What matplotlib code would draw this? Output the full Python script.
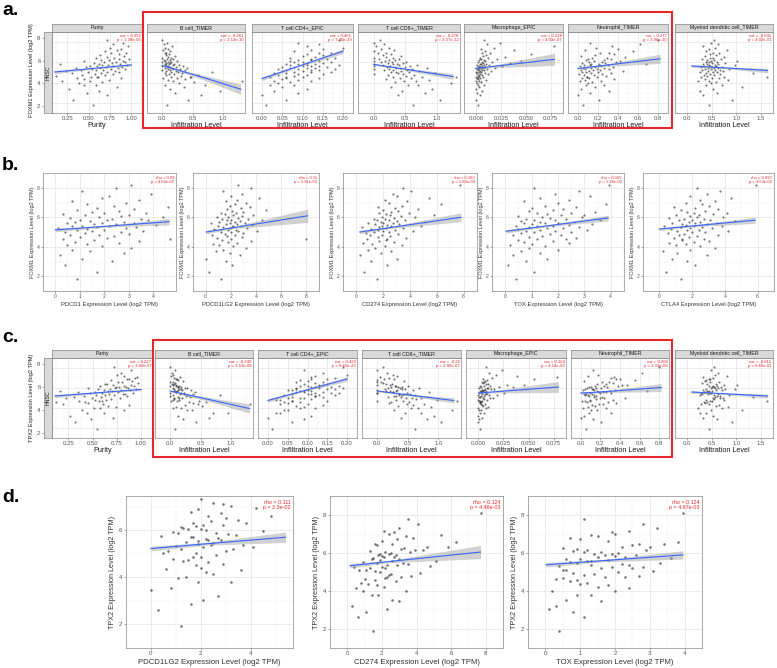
import matplotlib
matplotlib.use("Agg")
import matplotlib.pyplot as plt
from matplotlib.patches import Rectangle

# ---------------- data ----------------
# samples sorted by FOXM1 expression (log2 TPM)
y_foxm1 = [1.78, 2.31, 2.74, 3.02, 3.19, 3.41, 3.57, 3.73, 3.81, 3.94,
           4.03, 4.12, 4.18, 4.27, 4.33, 4.41, 4.46, 4.52, 4.58, 4.66,
           4.71, 4.77, 4.83, 4.86, 4.92, 4.97, 5.01, 5.06, 5.09, 5.13,
           5.16, 5.21, 5.24, 5.27, 5.31, 5.33, 5.38, 5.41, 5.44, 5.47,
           5.52, 5.54, 5.58, 5.61, 5.63, 5.68, 5.71, 5.74, 5.78, 5.81,
           5.84, 5.88, 5.91, 5.96, 6.01, 6.04, 6.08, 6.12, 6.17, 6.21,
           6.26, 6.31, 6.36, 6.42, 6.47, 6.53, 6.61, 6.68, 6.79, 6.88,
           6.97, 7.08, 7.19, 7.31, 7.44, 7.58, 7.77, 7.96, 8.21, 4.55]
y_tpx2 = [1.92, 2.62, 3.05, 2.88, 3.46, 3.22, 3.81, 3.55, 4.02, 3.78,
          4.21, 3.98, 4.37, 4.15, 4.52, 4.29, 4.68, 4.41, 4.79, 4.57,
          4.88, 4.63, 5.02, 4.74, 5.11, 4.85, 5.19, 4.96, 5.28, 5.05,
          5.36, 5.12, 5.43, 5.21, 5.49, 5.27, 5.58, 5.33, 5.64, 5.39,
          5.71, 5.46, 5.77, 5.52, 5.83, 5.59, 5.90, 5.66, 5.97, 5.72,
          6.03, 5.79, 6.09, 5.87, 6.16, 5.94, 6.24, 6.01, 6.32, 6.07,
          6.41, 6.14, 6.50, 6.22, 6.61, 6.31, 6.74, 6.45, 6.88, 6.60,
          7.02, 6.79, 7.16, 6.95, 7.33, 7.12, 7.55, 7.81, 8.12, 4.73]

x_purity = [0.55, 0.32, 0.71, 0.48, 0.62, 0.27, 0.83, 0.44, 0.58, 0.39,
            0.66, 0.51, 0.19, 0.74, 0.45, 0.88, 0.36, 0.61, 0.53, 0.12,
            0.69, 0.42, 0.78, 0.57, 0.31, 0.64, 0.86, 0.49, 0.72, 0.23,
            0.81, 0.59, 0.67, 0.41, 0.92, 0.54, 0.76, 0.63, 0.35, 0.84,
            0.70, 0.47, 0.89, 0.60, 0.79, 0.52, 0.95, 0.66, 0.73, 0.16,
            0.87, 0.62, 0.77, 0.56, 0.93, 0.68, 0.82, 0.45, 0.90, 0.74,
            0.65, 0.85, 0.97, 0.58, 0.80, 0.71, 0.91, 0.63, 0.86, 0.76,
            0.94, 0.69, 0.83, 0.88, 0.75, 0.96, 0.79, 0.90, 0.72, 0.60]
x_bcell = [0.08, 0.42, 0.63, 0.21, 0.95, 0.12, 0.35, 0.71, 0.05, 0.28,
           0.52, 0.17, 1.31, 0.09, 0.38, 0.24, 0.02, 0.46, 0.14, 0.31,
           0.06, 0.58, 0.19, 0.11, 0.33, 0.04, 0.26, 0.15, 0.81, 0.07,
           0.22, 0.13, 0.37, 0.00, 0.18, 0.29, 0.10, 0.05, 0.41, 0.16,
           0.08, 0.23, 0.12, 0.00, 0.34, 0.09, 0.17, 0.06, 0.27, 0.11,
           0.04, 0.20, 0.13, 0.07, 0.00, 0.15, 0.10, 0.25, 0.05, 0.12,
           0.03, 0.18, 0.08, 0.14, 0.00, 0.09, 0.21, 0.06, 0.11, 0.04,
           0.07, 0.13, 0.02, 0.10, 0.05, 0.16, 0.03, 0.08, 0.00, 0.48]
x_cd4 = [0.01, 0.06, 0.00, 0.09, 0.03, 0.11, 0.05, 0.02, 0.08, 0.04,
         0.07, 0.12, 0.03, 0.09, 0.05, 0.14, 0.06, 0.10, 0.02, 0.08,
         0.11, 0.04, 0.09, 0.15, 0.06, 0.03, 0.12, 0.08, 0.17, 0.05,
         0.10, 0.14, 0.06, 0.12, 0.18, 0.04, 0.09, 0.13, 0.07, 0.11,
         0.08, 0.16, 0.05, 0.12, 0.10, 0.14, 0.07, 0.11, 0.19, 0.09,
         0.13, 0.06, 0.11, 0.15, 0.08, 0.17, 0.10, 0.07, 0.14, 0.12,
         0.09, 0.16, 0.12, 0.18, 0.07, 0.13, 0.10, 0.15, 0.11, 0.14,
         0.17, 0.08, 0.12, 0.15, 0.20, 0.11, 0.14, 0.09, 0.19, 0.06]
x_cd8 = [0.62, 1.05, 0.38, 0.81, 0.45, 0.93, 0.27, 0.71, 0.55, 1.22,
         0.34, 0.67, 0.48, 0.88, 0.19, 0.59, 0.42, 0.76, 0.31, 0.52,
         0.64, 0.23, 0.47, 0.00, 0.39, 0.98, 0.28, 0.56, 0.35, 0.72,
         0.44, 0.17, 0.53, 0.30, 0.00, 0.61, 0.25, 0.41, 0.84, 0.36,
         0.21, 0.49, 0.33, 0.00, 0.58, 0.26, 0.40, 0.14, 0.68, 0.30,
         0.37, 0.00, 0.22, 0.46, 0.29, 0.12, 0.51, 0.18, 0.00, 0.34,
         0.24, 0.40, 0.09, 0.31, 0.00, 0.20, 0.43, 0.15, 0.27, 0.06,
         0.19, 0.00, 0.32, 0.11, 0.25, 0.04, 0.16, 0.00, 0.10, 1.30]
x_mac = [0.002, 0.000, 0.004, 0.001, 0.006, 0.000, 0.003, 0.002, 0.008, 0.001,
         0.005, 0.000, 0.003, 0.010, 0.002, 0.004, 0.001, 0.007, 0.000, 0.003,
         0.006, 0.002, 0.012, 0.004, 0.001, 0.009, 0.003, 0.005, 0.000, 0.015,
         0.004, 0.002, 0.008, 0.006, 0.001, 0.011, 0.003, 0.019, 0.005, 0.007,
         0.002, 0.009, 0.004, 0.026, 0.006, 0.003, 0.013, 0.008, 0.001, 0.005,
         0.010, 0.004, 0.034, 0.007, 0.002, 0.016, 0.006, 0.009, 0.045, 0.003,
         0.008, 0.021, 0.005, 0.012, 0.004, 0.029, 0.007, 0.010, 0.055, 0.006,
         0.014, 0.009, 0.038, 0.005, 0.018, 0.078, 0.011, 0.024, 0.008, 0.002]
x_neut = [0.05, 0.21, 0.00, 0.12, 0.31, 0.03, 0.17, 0.08, 0.26, 0.10,
          0.14, 0.02, 0.23, 0.07, 0.36, 0.11, 0.04, 0.19, 0.09, 0.28,
          0.16, 0.06, 0.24, 0.01, 0.13, 0.33, 0.08, 0.20, 0.04, 0.45,
          0.11, 0.22, 0.03, 0.15, 0.31, 0.07, 0.19, 0.13, 0.26, 0.05,
          0.17, 0.09, 0.35, 0.20, 0.02, 0.23, 0.12, 0.30, 0.06, 0.68,
          0.21, 0.13, 0.27, 0.04, 0.38, 0.11, 0.24, 0.16, 0.42, 0.08,
          0.26, 0.10, 0.33, 0.14, 0.29, 0.47, 0.03, 0.17, 0.36, 0.22,
          0.31, 0.55, 0.07, 0.40, 0.18, 0.34, 0.62, 0.12, 0.80, 0.09]
x_myeloid = [0.45, 0.92, 0.33, 0.61, 0.27, 0.53, 1.12, 0.38, 0.70, 0.49,
             0.58, 0.21, 0.44, 0.83, 0.36, 0.64, 0.50, 0.29, 0.75, 0.41,
             0.55, 0.34, 0.67, 0.47, 1.35, 0.39, 0.60, 0.52, 0.25, 0.73,
             0.43, 0.57, 0.31, 0.66, 0.48, 0.86, 0.37, 0.54, 0.42, 0.62,
             0.50, 0.28, 0.71, 0.46, 0.59, 0.35, 0.97, 0.44, 0.56, 0.40,
             0.63, 0.32, 0.51, 0.78, 0.45, 0.38, 0.60, 0.49, 1.02, 0.55,
             0.41, 0.68, 0.30, 0.53, 0.46, 0.74, 0.36, 0.58, 0.47, 0.65,
             0.52, 0.39, 0.81, 0.44, 0.57, 0.33, 0.62, 0.48, 0.55, 1.62]

x_pdcd1 = [0.9, 1.7, 0.4, 2.3, 1.1, 0.2, 2.8, 1.4, 0.7, 3.1,
           1.9, 0.5, 1.3, 2.6, 0.8, 3.4, 1.6, 0.3, 2.1, 1.0,
           2.4, 0.6, 1.8, 3.0, 1.2, 0.4, 2.7, 1.5, 3.6, 0.9,
           2.0, 1.3, 0.1, 2.9, 1.7, 3.3, 0.7, 2.2, 1.1, 4.1,
           1.6, 2.5, 0.5, 3.2, 1.9, 0.8, 2.8, 1.4, 3.8, 2.1,
           1.0, 3.5, 2.3, 0.6, 1.8, 4.4, 2.7, 1.2, 3.0, 0.3,
           2.0, 3.7, 1.5, 2.6, 0.9, 3.2, 1.7, 4.6, 2.4, 1.3,
           2.9, 0.7, 3.4, 1.9, 2.2, 3.9, 1.1, 2.5, 3.1, 4.7]
x_pdcd1lg2 = [1.2, 0.3, 2.1, 1.6, 0.0, 2.7, 1.9, 0.8, 1.4, 3.2,
              2.2, 1.1, 0.6, 2.5, 1.8, 3.6, 1.3, 2.0, 0.9, 2.9,
              1.7, 2.3, 0.5, 1.5, 3.0, 2.0, 1.2, 2.6, 4.1, 1.8,
              2.4, 0.7, 1.9, 3.3, 1.4, 2.1, 2.8, 1.0, 2.2, 3.7,
              1.6, 2.5, 0.4, 1.9, 3.1, 2.3, 1.1, 2.7, 4.5, 1.7,
              2.0, 3.4, 1.3, 2.6, 1.8, 0.9, 2.9, 2.2, 3.8, 1.5,
              2.4, 1.2, 3.0, 2.1, 4.8, 1.7, 2.8, 3.5, 1.9, 2.3,
              3.2, 1.6, 2.5, 4.2, 2.0, 2.9, 1.4, 3.6, 2.6, 8.0]
x_cd274 = [1.5, 0.6, 2.3, 1.1, 3.0, 0.3, 1.8, 2.6, 0.9, 1.4,
           2.1, 3.4, 1.2, 0.5, 2.8, 1.7, 2.2, 0.8, 3.7, 1.6,
           2.5, 1.0, 1.9, 3.1, 0.7, 2.4, 1.3, 4.2, 2.0, 1.6,
           2.9, 1.1, 3.5, 2.2, 1.7, 0.4, 2.6, 4.8, 1.9, 2.3,
           1.4, 3.2, 2.7, 0.9, 2.0, 5.1, 1.8, 3.0, 2.4, 1.5,
           3.6, 2.1, 1.3, 2.8, 4.4, 1.9, 3.3, 2.5, 5.8, 2.2,
           1.7, 3.9, 2.6, 3.1, 2.0, 4.6, 2.9, 1.6, 3.4, 6.3,
           2.4, 3.8, 2.1, 5.4, 3.0, 2.7, 4.1, 3.5, 7.7, 2.3]
x_tox = [0.4, 1.1, 0.1, 0.8, 1.6, 0.3, 1.3, 0.6, 2.0, 0.9,
         1.5, 0.2, 1.0, 2.4, 0.7, 1.8, 0.5, 1.2, 2.7, 0.9,
         1.4, 0.3, 2.1, 1.7, 0.6, 1.1, 2.5, 0.8, 1.9, 3.1,
         1.3, 0.5, 2.2, 1.6, 0.9, 2.8, 1.2, 0.4, 1.8, 2.4,
         1.0, 3.3, 1.5, 0.7, 2.0, 1.3, 2.6, 0.6, 1.9, 3.6,
         1.1, 2.3, 0.8, 1.7, 2.9, 1.4, 0.5, 2.1, 3.0, 1.6,
         2.5, 1.2, 3.4, 0.9, 1.8, 2.2, 1.0, 2.7, 1.5, 3.8,
         2.0, 0.7, 2.4, 1.3, 3.2, 1.9, 2.8, 1.1, 3.95, 2.3]
x_ctla4 = [1.3, 0.4, 2.2, 1.7, 0.8, 2.9, 1.1, 0.2, 1.9, 3.4,
           2.5, 1.0, 1.6, 0.6, 2.1, 3.0, 1.4, 2.7, 0.9, 1.8,
           2.3, 1.2, 3.6, 1.5, 0.5, 2.0, 2.8, 1.1, 4.2, 1.7,
           2.4, 0.7, 1.9, 3.2, 1.3, 2.6, 0.3, 2.1, 3.8, 1.6,
           2.9, 1.4, 2.2, 0.8, 3.5, 1.8, 2.5, 4.6, 1.2, 2.0,
           3.1, 1.5, 2.7, 0.6, 2.3, 3.9, 1.9, 2.4, 1.0, 3.3,
           2.1, 4.1, 1.7, 2.8, 1.3, 3.6, 2.2, 0.9, 3.0, 2.6,
           1.6, 3.4, 2.5, 4.4, 1.9, 2.9, 3.7, 2.3, 5.9, 1.4]

infil_names = ["Purity", "B cell_TIMER", "T cell CD4+_EPIC", "T cell CD8+_TIMER",
               "Macrophage_EPIC", "Neutrophil_TIMER", "Myeloid dendritic cell_TIMER"]
infil_x = [x_purity, x_bcell, x_cd4, x_cd8, x_mac, x_neut, x_myeloid]
infil_ticks = [[0.25, 0.5, 0.75, 1.0], [0, 0.5, 1.0], [0, 0.05, 0.1, 0.15, 0.2], [0, 0.5, 1.0],
               [0, 0.025, 0.05, 0.075], [0, 0.2, 0.4, 0.6, 0.8], [0, 0.5, 1.0, 1.5]]
infil_ticklabels = [["0.25", "0.50", "0.75", "1.00"], ["0.0", "0.5", "1.0"],
                    ["0.00", "0.05", "0.10", "0.15", "0.20"], ["0.0", "0.5", "1.0"],
                    ["0.000", "0.025", "0.050", "0.075"], ["0.0", "0.2", "0.4", "0.6", "0.8"],
                    ["0.0", "0.5", "1.0", "1.5"]]

a_cor = ["0.252", "-0.261", "0.461", "-0.278", "0.228", "0.277", "-0.035"]
a_p = ["1.38e-06", "2.14e-10", "7.40e-29", "3.37e-12", "4.03e-07", "3.96e-10", "4.02e-01"]
a_fit_x = [[0.10, 0.60, 1.00], [0.0, 0.15, 0.70, 1.29], [0.0, 0.09, 0.20], [0.0, 0.35, 1.26],
           [-0.001, 0.008, 0.079], [0.0, 0.18, 0.82], [0.09, 0.55, 1.64]]
a_fit_y = [[5.05, 5.44, 5.75], [5.70, 5.43, 4.46, 3.35], [4.40, 5.62, 7.10], [5.80, 5.47, 4.60],
           [5.40, 5.50, 6.30], [5.40, 5.61, 6.35], [5.65, 5.52, 5.20]]
a_fit_se = [[0.16, 0.06, 0.12], [0.10, 0.08, 0.24, 0.50], [0.20, 0.07, 0.25], [0.10, 0.06, 0.28],
            [0.08, 0.06, 0.60], [0.10, 0.06, 0.45], [0.15, 0.06, 0.22]]

c_cor = ["0.227", "-0.240", "0.423", "-0.22", "0.164", "0.208", "-0.015"]
c_p = ["3.69e-07", "3.53e-08", "8.65e-23", "2.90e-07", "4.14e-03", "3.33e-06", "6.65e-01"]
c_fit_x = [[0.11, 0.60, 1.00], [0.0, 0.15, 0.70, 1.30], [0.0, 0.09, 0.20], [0.0, 0.35, 1.25],
           [0.0, 0.008, 0.080], [0.0, 0.18, 0.82], [0.09, 0.55, 1.64]]
c_fit_y = [[5.20, 5.56, 5.85], [5.70, 5.50, 4.76, 3.95], [4.75, 5.72, 6.90], [5.70, 5.43, 4.75],
           [5.50, 5.56, 6.10], [5.50, 5.59, 6.05], [5.60, 5.48, 5.20]]
c_fit_se = [[0.16, 0.06, 0.12], [0.10, 0.08, 0.22, 0.45], [0.18, 0.07, 0.22], [0.10, 0.06, 0.25],
            [0.07, 0.06, 0.55], [0.10, 0.06, 0.40], [0.14, 0.06, 0.20]]

b_genes = ["PDCD1", "PDCD1LG2", "CD274", "TOX", "CTLA4"]
b_x = [x_pdcd1, x_pdcd1lg2, x_cd274, x_tox, x_ctla4]
b_ticks = [[0, 1, 2, 3, 4], [0, 2, 4, 6, 8], [0, 2, 4, 6, 8], [0, 1, 2, 3, 4], [0, 2, 4, 6]]
b_rho = ["0.09", "0.11", "0.162", "0.165", "0.097"]
b_p = ["4.53e-02", "1.31e-02", "1.83e-04", "1.34e-03", "3.63e-02"]
b_fit_x = [[0.0, 2.0, 4.65], [0.05, 2.0, 8.1], [0.25, 2.3, 7.8], [0.03, 1.6, 3.9], [0.0, 2.1, 5.85]]
b_fit_y = [[5.14, 5.38, 5.70], [5.00, 5.27, 6.10], [5.00, 5.27, 6.00], [5.05, 5.42, 5.95], [5.20, 5.42, 5.80]]
b_fit_se = [[0.12, 0.06, 0.22], [0.12, 0.06, 0.45], [0.12, 0.06, 0.30], [0.12, 0.06, 0.20], [0.10, 0.06, 0.22]]

d_genes = ["PDCD1LG2", "CD274", "TOX"]
d_x = [x_pdcd1lg2, x_cd274, x_tox]
d_ticks = [[0, 2, 4], [0, 2, 4, 6, 8], [0, 1, 2, 3, 4]]
d_yticks = [[2, 4, 6], [2, 4, 6, 8], [2, 4, 6, 8]]
d_rho = ["0.111", "0.124", "0.124"]
d_p = ["2.3e-02", "4.48e-03", "4.67e-03"]
d_fit_x = [[0.0, 2.2, 5.4], [0.15, 2.4, 7.7], [0.02, 1.6, 3.95]]
d_fit_y = [[5.22, 5.42, 5.70], [5.33, 5.55, 6.05], [5.38, 5.59, 5.90]]
d_fit_se = [[0.10, 0.06, 0.22], [0.12, 0.06, 0.35], [0.12, 0.06, 0.22]]

# ---------------- layout / style ----------------
W, H = 777, 668
plt.rcParams['font.family'] = ['Liberation Sans', 'DejaVu Sans']
fig = plt.figure(figsize=(W / 100, H / 100), dpi=100)
fig.patch.set_facecolor('white')


def rect(x0, y0, x1, y1):
    return [x0 / W, 1 - y1 / H, (x1 - x0) / W, (y1 - y0) / H]


POINT = '#262626'
LINE = '#3366ff'
BAND = '#9a9a9a'
RED = '#e8262b'
TXT = '#333333'


def style(ax, xlim, xticks, xtl, ylim, yticks, tick_fs, show_y=True):
    ax.set_xlim(*xlim)
    ax.set_ylim(*ylim)
    ax.set_xticks(xticks)
    ax.set_xticklabels(xtl)
    ax.set_yticks(yticks)
    xs = list(xticks)
    st = xs[1] - xs[0]
    mx = [xs[0] - st / 2] + [(p + q) / 2 for p, q in zip(xs[:-1], xs[1:])] + [xs[-1] + st / 2]
    ys = list(yticks)
    sy = ys[1] - ys[0]
    my = [ys[0] - sy / 2] + [(p + q) / 2 for p, q in zip(ys[:-1], ys[1:])] + [ys[-1] + sy / 2]
    ax.set_xticks(mx, minor=True)
    ax.set_yticks(my, minor=True)
    ax.grid(True, which='major', color='#e3e3e3', lw=0.5)
    ax.grid(True, which='minor', color='#f1f1f1', lw=0.35)
    ax.set_axisbelow(True)
    ax.tick_params(which='minor', length=0)
    ax.tick_params(which='major', length=1.5, width=0.4, color='#666666',
                   labelsize=tick_fs, labelcolor='#555555', pad=1)
    if not show_y:
        ax.tick_params(axis='y', labelleft=False, length=0)
    for s in ax.spines.values():
        s.set_color('#8a8a8a')
        s.set_linewidth(0.5)


def draw(ax, x, y, fx, fy, fw, ann, ann_fs, ps):
    ax.scatter(x, y, s=ps, color=POINT, alpha=0.65, linewidths=0, zorder=2)
    ax.fill_between(fx, [p - q for p, q in zip(fy, fw)], [p + q for p, q in zip(fy, fw)],
                    color=BAND, alpha=0.45, lw=0, zorder=3)
    ax.plot(fx, fy, color=LINE, lw=0.8, zorder=4)
    ax.text(0.985, 0.975, "\n".join(ann), transform=ax.transAxes, ha='right', va='top',
            color=RED, fontsize=ann_fs, linespacing=1.0, zorder=5)


def strip(x0, y0, x1, y1, label, rot=0):
    st = fig.add_axes(rect(x0, y0, x1, y1))
    st.set_facecolor('#d9d9d9')
    st.set_xticks([])
    st.set_yticks([])
    for s in st.spines.values():
        s.set_color('#8a8a8a')
        s.set_linewidth(0.5)
    st.text(0.5, 0.5, label, ha='center', va='center', fontsize=3.8, color='#1a1a1a',
            rotation=rot, transform=st.transAxes)
    return st


def infil_row(cols, xlims, top, bot, strip_top, y, gene, cor, pv, fx, fy, fw, ylim, box, ylab_y):
    for i in range(7):
        x0, x1 = cols[i]
        ax = fig.add_axes(rect(x0, top, x1, bot))
        style(ax, xlims[i], infil_ticks[i], infil_ticklabels[i], ylim, [2, 4, 6, 8], 4.3, show_y=False)
        draw(ax, infil_x[i], y, fx[i], fy[i], fw[i],
             ["cor = " + cor[i], "p = " + pv[i]], 3.1, 2.2)
        ax.set_xlabel("Purity" if i == 0 else "Infiltration Level", fontsize=5.2,
                      labelpad=0.5, color='#1a1a1a')
        strip(x0, strip_top, x1, top, infil_names[i])
    side = strip(44, top, 52, bot, "HNSC", rot=90)
    side.set_ylim(*ylim)
    side.set_yticks([2, 4, 6, 8])
    side.tick_params(axis='y', length=1.5, width=0.4, color='#666666', labelsize=4.3,
                     labelcolor='#555555', pad=1)
    fig.text(31 / W, 1 - ylab_y / H, gene + " Expression Level (log2 TPM)", rotation=90,
             ha='center', va='center', fontsize=4.1, color='#1a1a1a')
    bx0, by0, bx1, by1 = box
    fig.add_artist(Rectangle((bx0 / W, 1 - by1 / H), (bx1 - bx0) / W, (by1 - by0) / H,
                             transform=fig.transFigure, fill=False, ec=RED, lw=1.5))


# ---- panel a ----
a_cols = [(52, 142), (147, 245), (252, 353), (358, 460), (464, 563), (568, 668), (675, 773)]
a_xlims = [(0.07, 1.02), (-0.05, 1.36), (-0.011, 0.213), (-0.05, 1.37), (-0.006, 0.083),
           (-0.045, 0.845), (-0.03, 1.73)]
infil_row(a_cols, a_xlims, 32, 113, 24, y_foxm1, "FOXM1", a_cor, a_p,
          a_fit_x, a_fit_y, a_fit_se, (1.4, 8.5), (143, 12, 672, 128), 70)

# ---- panel c ----
c_cols = [(52, 153), (155, 253), (258, 357), (362, 461), (466, 566), (571, 669), (675, 773)]
c_xlims = [(0.08, 1.06), (-0.05, 1.36), (-0.009, 0.216), (-0.05, 1.37), (-0.006, 0.083),
           (-0.05, 0.84), (-0.03, 1.73)]
infil_row(c_cols, c_xlims, 358, 438, 350, y_tpx2, "TPX2", c_cor, c_p,
          c_fit_x, c_fit_y, c_fit_se, (1.6, 8.5), (153, 340, 672, 457), 398)

# ---- panel b ----
b_cols = [(43, 176), (193, 319), (343, 477), (492, 624), (643, 774)]
b_xlims = [(-0.23, 4.93), (-0.4, 8.2), (-0.3, 8.2), (-0.2, 4.13), (-0.24, 6.1)]
for i in range(5):
    x0, x1 = b_cols[i]
    ax = fig.add_axes(rect(x0, 173, x1, 291))
    style(ax, b_xlims[i], b_ticks[i], [str(t) for t in b_ticks[i]], (1.33, 8.6), [2, 4, 6, 8], 3.6)
    draw(ax, b_x[i], y_foxm1, b_fit_x[i], b_fit_y[i], b_fit_se[i],
         ["rho = " + b_rho[i], "p = " + b_p[i]], 3.0, 2.4)
    ax.set_xlabel(b_genes[i] + " Expression Level (log2 TPM)", fontsize=4.2, labelpad=1.5, color=TXT)
    ax.set_ylabel("FOXM1 Expression Level (log2 TPM)", fontsize=4.0, labelpad=1.5, color=TXT)

# ---- panel d ----
d_cols = [(126, 293), (330, 503), (528, 702)]
d_xlims = [(-0.1, 5.7), (-0.24, 8.15), (-0.2, 4.17)]
d_ylims = [(1.65, 7.45), (1.65, 8.4), (1.65, 8.4)]
for i in range(3):
    x0, x1 = d_cols[i]
    ax = fig.add_axes(rect(x0, 496, x1, 648))
    style(ax, d_xlims[i], d_ticks[i], [str(t) for t in d_ticks[i]], d_ylims[i], d_yticks[i], 4.4)
    draw(ax, d_x[i], y_tpx2, d_fit_x[i], d_fit_y[i], d_fit_se[i],
         ["rho = " + d_rho[i], "p = " + d_p[i]], 3.9, 3.4)
    ax.set_xlabel(d_genes[i] + " Expression Level (log2 TPM)", fontsize=5.6, labelpad=1.5, color=TXT)
    ax.set_ylabel("TPX2 Expression Level (log2 TPM)", fontsize=5.2, labelpad=2, color=TXT)

# ---- panel letters ----
for lab, yb in [("a.", 15), ("b.", 170), ("c.", 342), ("d.", 502)]:
    fig.text(2 / W, 1 - yb / H, lab, fontsize=14, fontweight='bold', va='baseline', ha='left',
             color='black')

fig.savefig("out.png", dpi=100, facecolor='white')
